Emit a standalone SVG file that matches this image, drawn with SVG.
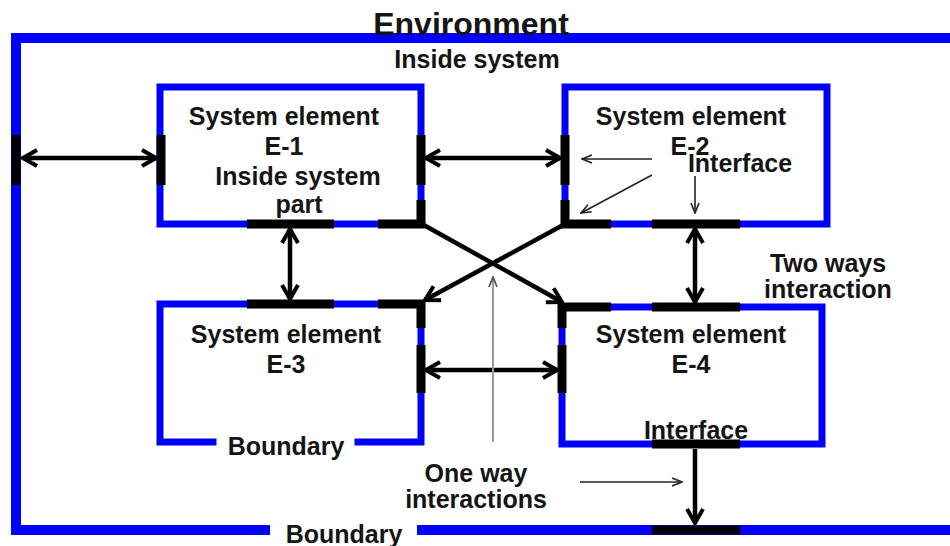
<svg xmlns="http://www.w3.org/2000/svg" width="950" height="546" viewBox="0 0 950 546">
  <style>
    .bnd { fill: none; stroke: #0000ff; stroke-width: 7; stroke-linecap: square; }
    .env { fill: none; stroke: #0000ff; stroke-width: 10; stroke-linecap: butt; }
    .ifc { fill: none; stroke: #000; stroke-width: 9; stroke-linecap: butt; }
    .thick { fill: none; stroke: #000; stroke-width: 4.5; }
    .thin { fill: none; stroke: #222; stroke-width: 1.6; }
    .grey { fill: none; stroke: #9a9a9a; stroke-width: 2; }
    text { font-family: "Liberation Sans", Arial, sans-serif; font-weight: bold; font-size: 25px; fill: #151515; text-anchor: middle; }
    .title { font-size: 32px; }
  </style>
  <defs>
    <marker id="big" viewBox="0 0 18 20" refX="16" refY="10" markerWidth="18" markerHeight="20" markerUnits="userSpaceOnUse" orient="auto-start-reverse">
      <path d="M2,2 L16,10 L2,18" fill="none" stroke="#000" stroke-width="4" stroke-linejoin="miter"/>
    </marker>
    <marker id="small" viewBox="0 0 12 10" refX="11" refY="5" markerWidth="12" markerHeight="10" markerUnits="userSpaceOnUse" orient="auto-start-reverse">
      <path d="M1,1 L11,5 L1,9" fill="none" stroke="#222" stroke-width="1.6"/>
    </marker>
    <marker id="smallg" viewBox="0 0 12 10" refX="11" refY="5" markerWidth="12" markerHeight="10" markerUnits="userSpaceOnUse" orient="auto">
      <path d="M1,1 L11,5 L1,9" fill="none" stroke="#555" stroke-width="1.8"/>
    </marker>
  </defs>

  <rect width="950" height="546" fill="#fff"/>

  <!-- environment boundary -->
  <g id="environment">
    <path class="env" d="M270,530 H16 V38 H955"/>
    <path class="env" d="M417,530 H955"/>
    <line class="ifc" x1="16" y1="135" x2="16" y2="185" stroke-width="13"/>
    <line class="ifc" x1="652" y1="530" x2="740" y2="530" stroke-width="14"/>
    <text class="title" x="471" y="35">Environment</text>
    <text x="477" y="68">Inside system</text>
    <text x="344" y="543">Boundary</text>
  </g>

  <g id="e1">
    <rect class="bnd" x="160" y="87" width="261" height="137"/>
    <line class="ifc" x1="161" y1="135" x2="161" y2="185"/>
    <line class="ifc" x1="421" y1="135" x2="421" y2="185"/>
    <path class="ifc" d="M421,200 V224 H378"/>
    <line class="ifc" x1="247" y1="224" x2="334" y2="224"/>
    <text x="284" y="125">System element</text>
    <text x="284" y="155">E-1</text>
    <text x="298" y="185">Inside system</text>
    <text x="299" y="213">part</text>
  </g>

  <g id="e2">
    <rect class="bnd" x="565" y="87" width="262" height="137"/>
    <line class="ifc" x1="565" y1="135" x2="565" y2="185"/>
    <path class="ifc" d="M565,200 V224 H611"/>
    <line class="ifc" x1="652" y1="224" x2="740" y2="224"/>
    <text x="691" y="125">System element</text>
    <text x="690" y="155">E-2</text>
    <text x="740" y="172">Interface</text>
  </g>

  <g id="e3">
    <path class="bnd" d="M213,442 H160 V304 H421 V442 H358"/>
    <line class="ifc" x1="247" y1="304" x2="334" y2="304"/>
    <path class="ifc" d="M378,304 H421 V328"/>
    <line class="ifc" x1="421" y1="345" x2="421" y2="393"/>
    <text x="286" y="343">System element</text>
    <text x="286" y="373">E-3</text>
    <text x="286" y="455">Boundary</text>
  </g>

  <g id="e4">
    <rect class="bnd" x="562" y="307" width="260" height="137"/>
    <path class="ifc" d="M611,307 H562 V328"/>
    <line class="ifc" x1="652" y1="307" x2="740" y2="307"/>
    <line class="ifc" x1="562" y1="345" x2="562" y2="393"/>
    <line class="ifc" x1="652" y1="444" x2="740" y2="444"/>
    <text x="691" y="343">System element</text>
    <text x="691" y="373">E-4</text>
    <text x="696" y="439">Interface</text>
  </g>

  <g id="connectors">
    <!-- two-way interactions -->
    <line class="thick" x1="23" y1="158" x2="156" y2="158" marker-start="url(#big)" marker-end="url(#big)"/>
    <line class="thick" x1="426" y1="158" x2="560" y2="158" marker-start="url(#big)" marker-end="url(#big)"/>
    <line class="thick" x1="290" y1="229" x2="290" y2="299" marker-start="url(#big)" marker-end="url(#big)"/>
    <line class="thick" x1="695" y1="229" x2="695" y2="302" marker-start="url(#big)" marker-end="url(#big)"/>
    <line class="thick" x1="426" y1="370" x2="557" y2="370" marker-start="url(#big)" marker-end="url(#big)"/>
    <!-- one-way interactions -->
    <line class="thick" x1="422" y1="224" x2="562" y2="302" stroke-width="5" marker-end="url(#big)"/>
    <line class="thick" x1="565" y1="224" x2="425" y2="300" stroke-width="5" marker-end="url(#big)"/>
    <line class="thick" x1="695" y1="449" x2="695" y2="523" marker-end="url(#big)"/>
    <!-- label pointers -->
    <line class="thin" x1="652" y1="159" x2="582" y2="159" marker-end="url(#small)"/>
    <line class="thin" x1="652" y1="175" x2="581" y2="213" marker-end="url(#small)"/>
    <line class="thin" x1="695" y1="176" x2="695" y2="213" marker-end="url(#small)"/>
    <line class="thin" x1="580" y1="482" x2="682" y2="482" marker-end="url(#small)"/>
    <line class="grey" x1="493" y1="442" x2="493" y2="277" marker-end="url(#smallg)"/>
  </g>

  <g id="labels">
    <text x="828" y="272">Two ways</text>
    <text x="828" y="298">interaction</text>
    <text x="476" y="482">One way</text>
    <text x="476" y="508">interactions</text>
  </g>
</svg>
